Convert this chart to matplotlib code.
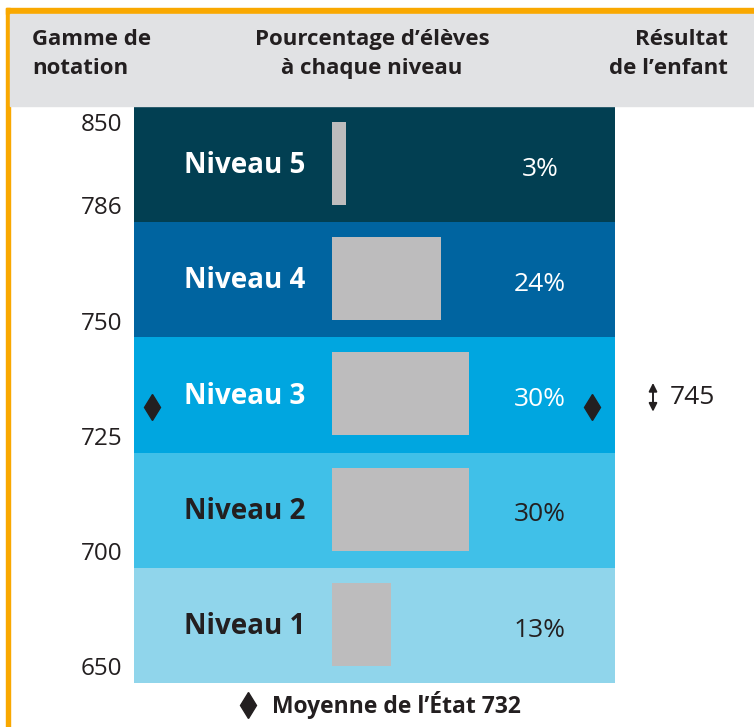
import numpy as np
import matplotlib
matplotlib.use('Agg')
import matplotlib.pyplot as plt
from matplotlib.patches import Rectangle
import matplotlib.transforms as mtransforms

plt.rcParams['font.family'] = ['Open Sans', 'DejaVu Sans']

# data
niveaux = ['Niveau 1', 'Niveau 2', 'Niveau 3', 'Niveau 4', 'Niveau 5']
pourcentages = [13, 30, 30, 24, 3]
bornes = [650, 700, 725, 750, 786, 850]
couleurs = ['#90d5eb', '#40c0e8', '#00a6e0', '#0064a0', '#023f52']
couleurs_texte = ['#231f20', '#231f20', 'white', 'white', 'white']
moyenne_etat = 732
resultat_enfant = 745

W, H = 754, 727
fig = plt.figure(figsize=(W / 100, H / 100), dpi=100)

# frame: orange border + gray header
fig.patches.append(Rectangle((6 / W, 0), 4 / W, 1 - 8 / H, transform=fig.transFigure,
                             color='#f9a800', zorder=0))
fig.patches.append(Rectangle((6 / W, 1 - 14 / H), 1, 6 / H, transform=fig.transFigure,
                             color='#f9a800', zorder=0))
fig.patches.append(Rectangle((10 / W, 1 - 106 / H), 1, 92 / H, transform=fig.transFigure,
                             color='#e1e2e4', zorder=0))

hdr = dict(fontsize=16, fontweight='bold', color='#231f20', linespacing=1.55, va='center')
fig.text(32 / W, 1 - 54 / H, 'Gamme de\nnotation', ha='left', **hdr)
fig.text(372 / W, 1 - 54 / H, 'Pourcentage d\u2019élèves\nà chaque niveau', ha='center', **hdr)
fig.text(728 / W, 1 - 54 / H, 'Résultat\nde l\u2019enfant', ha='right', multialignment='right', **hdr)

# main chart area
ax = fig.add_axes([134 / W, 1 - 683 / H, 481 / W, 576 / H])
px = 4.55  # pixels per percent
ax.set_xlim(-198 / px, (481 - 198) / px)
ax.set_ylim(0, len(niveaux))
ax.axis('off')

for i, (niv, pct) in enumerate(zip(niveaux, pourcentages)):
    ax.axhspan(i, i + 1, color=couleurs[i], zorder=0, lw=0)
    ax.barh(i + 0.51, pct, height=0.72, left=0, color='#bdbcbd', zorder=2)
    ax.text(-198 / px + 50 / px, i + 0.49, niv, color=couleurs_texte[i], fontsize=20,
            fontweight='bold', ha='left', va='center', zorder=3)
    ax.text(208 / px, i + 0.46, f'{pct}%', color=couleurs_texte[i], fontsize=19,
            ha='center', va='center', zorder=3)

# score range labels
trans_lbl = mtransforms.blended_transform_factory(fig.transFigure, ax.transData)
for k, b in enumerate(bornes):
    off = -13 if k == len(bornes) - 1 else 10
    ax.annotate(str(b), xy=(122 / W, k), xycoords=trans_lbl, xytext=(0, off),
                textcoords='offset points', ha='right', va='center', fontsize=17.5,
                color='#231f20', annotation_clip=False)

# state average markers
lvl_etat = np.searchsorted(bornes, moyenne_etat) - 1
y_etat = lvl_etat + 0.4
ax.plot([152 / W, 592 / W], [y_etat, y_etat], 'd', transform=trans_lbl, color='#231f20',
        markersize=13.5, clip_on=False, linestyle='none', zorder=4)

# child result
lvl_enf = np.searchsorted(bornes, resultat_enfant) - 1
y_enf = lvl_enf + 0.48
ax.annotate('', xy=(653 / W, y_enf + 0.125), xytext=(653 / W, y_enf - 0.125),
            xycoords=trans_lbl, textcoords=trans_lbl,
            arrowprops=dict(arrowstyle='<|-|>', color='#231f20', lw=1.4,
                            mutation_scale=12, shrinkA=0, shrinkB=0),
            annotation_clip=False)
ax.text(670 / W, y_enf, str(resultat_enfant), transform=trans_lbl, fontsize=19,
        ha='left', va='center', color='#231f20')

# legend
fig.lines.append(plt.Line2D([248 / W], [1 - 705 / H], marker='d', markersize=13,
                            color='#231f20', transform=fig.transFigure))
fig.text(272 / W, 1 - 705 / H, f'Moyenne de l\u2019État {moyenne_etat}', fontsize=16.5,
         fontweight='bold', color='#231f20', ha='left', va='center')

fig.savefig('out.png', dpi=100)
